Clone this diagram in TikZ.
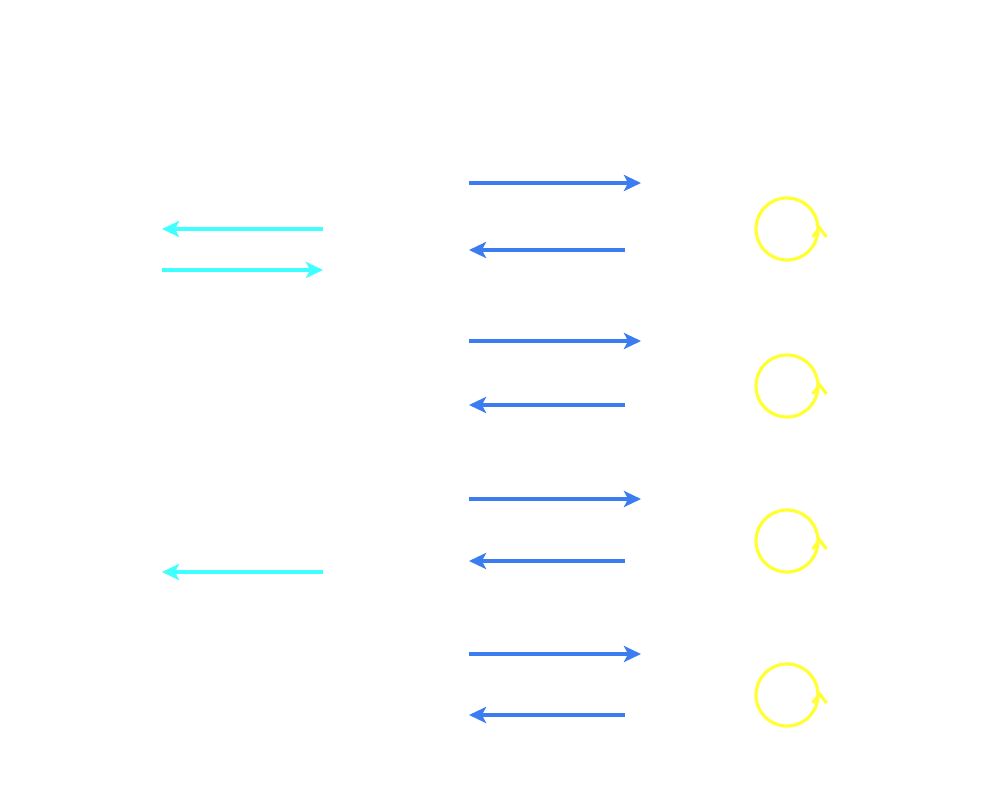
\documentclass[tikz,border=0pt]{standalone}
\usetikzlibrary{arrows.meta}
\definecolor{cyanA}{RGB}{64,255,255}
\definecolor{blueA}{RGB}{59,125,240}
\definecolor{yellowA}{RGB}{255,255,51}
\begin{document}
\begin{tikzpicture}[x=1pt,y=-1pt,
  cyanarrow/.style={draw=cyanA,line width=3.2pt,-{Stealth[length=17pt,width=16pt,inset=4pt]}},
  bluearrow/.style={draw=blueA,line width=3.2pt,-{Stealth[length=17pt,width=16pt,inset=4pt]}},
  loopnode/.style={circle,draw=yellowA,line width=3.2pt,minimum size=62pt,inner sep=0pt},
  chevron/.style={draw=yellowA,line width=3.2pt}]
\useasboundingbox (0,0) rectangle (1000,800);
% cyan
\coordinate (c1a) at (323,229); \coordinate (c1b) at (162,229);
\coordinate (c2a) at (162,270); \coordinate (c2b) at (323,270);
\coordinate (c3a) at (323,572); \coordinate (c3b) at (162,572);
\draw[cyanarrow] (c1a) -- (c1b);
\draw[cyanarrow] (c2a) -- (c2b);
\draw[cyanarrow] (c3a) -- (c3b);
% blue
\foreach \i/\ya/\yb in {1/183/250,2/341/405,3/499/561,4/654/715}{
  \coordinate (r\i a) at (469,\ya); \coordinate (r\i b) at (641,\ya);
  \coordinate (l\i a) at (625,\yb); \coordinate (l\i b) at (469,\yb);
  \draw[bluearrow] (r\i a) -- (r\i b);
  \draw[bluearrow] (l\i a) -- (l\i b);
}
% loops
\foreach \i/\y in {1/229,2/386,3/541,4/695}{
  \node[loopnode] (o\i) at (787,\y) {};
  \draw[chevron] ([shift={(-7,8)}]o\i.east) -- ([shift={(0,-1)}]o\i.east) -- ([shift={(7,8)}]o\i.east);
}
\end{tikzpicture}
\end{document}
